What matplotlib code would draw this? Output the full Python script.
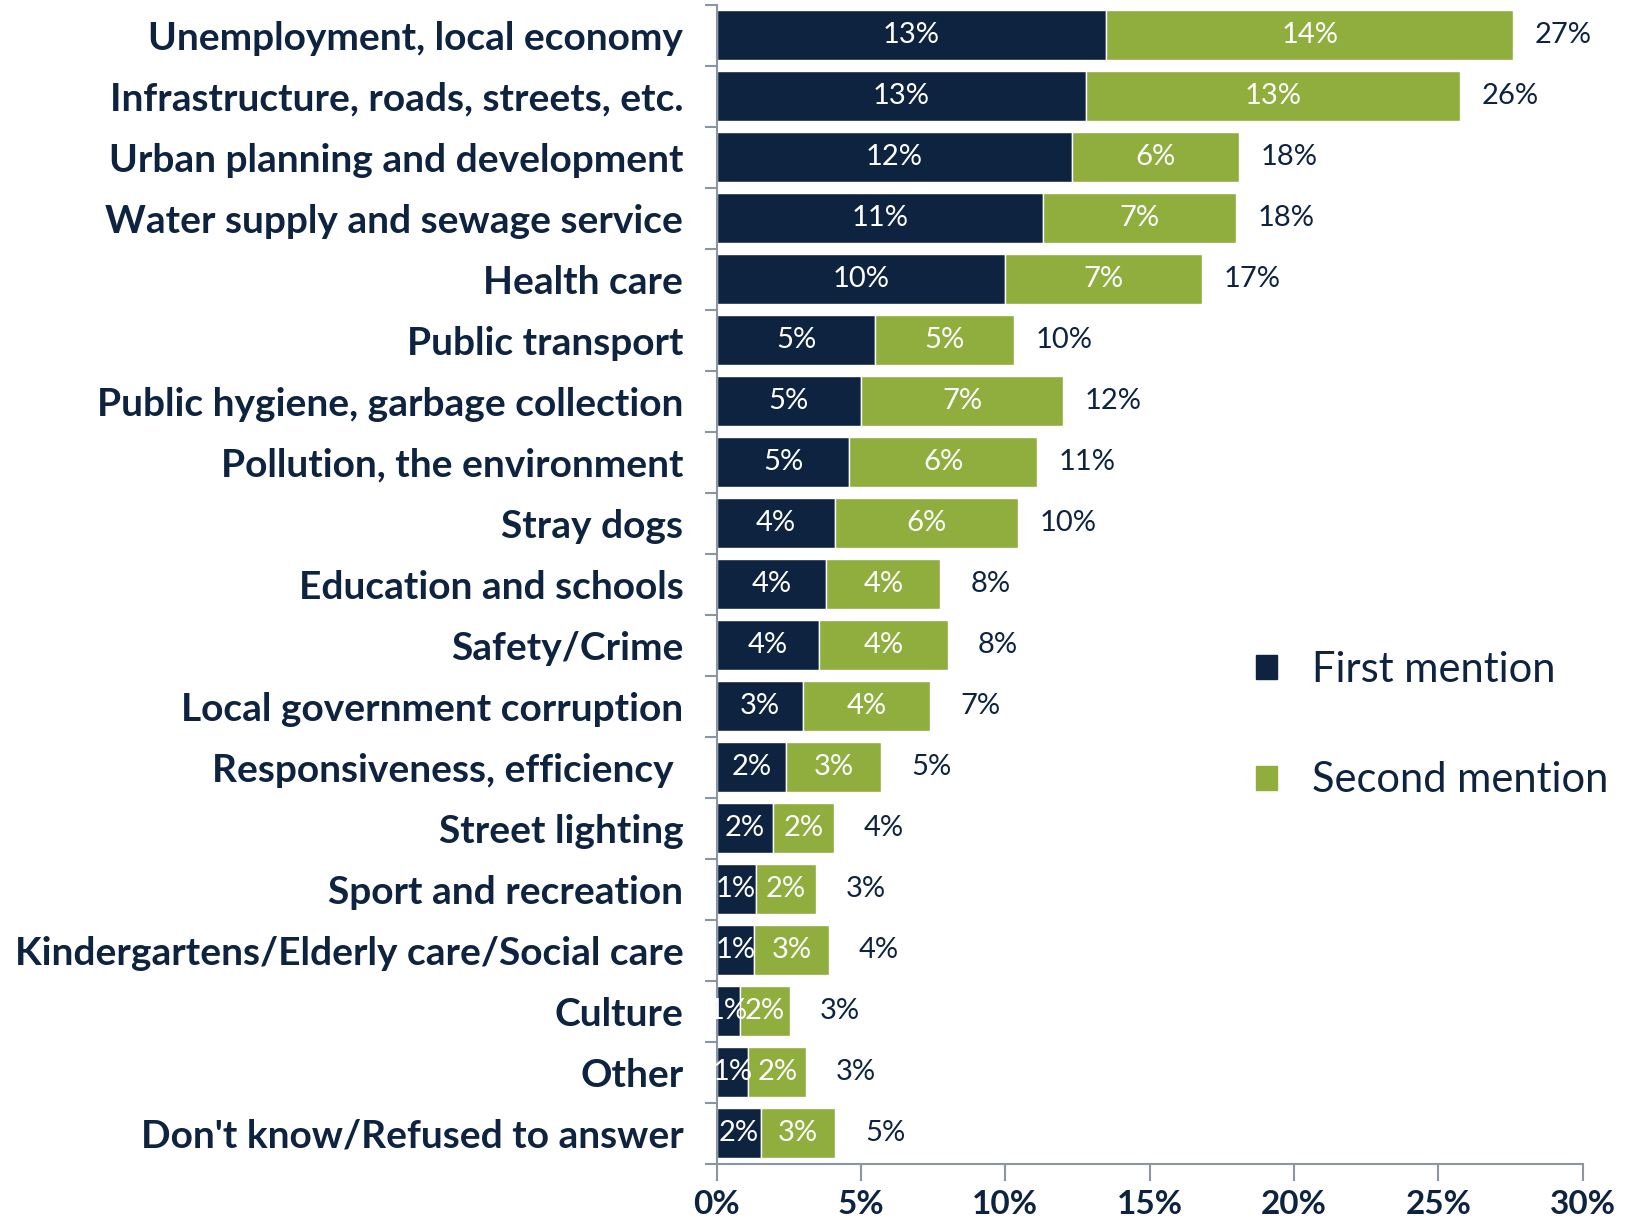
import matplotlib

matplotlib.use("Agg")
import matplotlib.pyplot as plt
import numpy as np
from matplotlib.patches import Patch

plt.rcParams["font.family"] = ["Lato", "DejaVu Sans"]

categories = [
    "Unemployment, local economy",
    "Infrastructure, roads, streets, etc.",
    "Urban planning and development",
    "Water supply and sewage service",
    "Health care",
    "Public transport",
    "Public hygiene, garbage collection",
    "Pollution, the environment",
    "Stray dogs",
    "Education and schools",
    "Safety/Crime",
    "Local government corruption",
    "Responsiveness, efficiency ",
    "Street lighting",
    "Sport and recreation",
    "Kindergartens/Elderly care/Social care",
    "Culture",
    "Other",
    "Don't know/Refused to answer",
]
first = [13.5, 12.8, 12.3, 11.3, 10.0, 5.5, 5.0, 4.6, 4.1, 3.8, 3.55, 3.0, 2.4, 1.95, 1.35, 1.3, 0.8, 1.1, 1.55]
second = [14.1, 12.95, 5.8, 6.7, 6.8, 4.8, 7.0, 6.5, 6.35, 3.95, 4.45, 4.4, 3.3, 2.1, 2.1, 2.6, 1.75, 2.0, 2.55]
first_lbl = ["13%", "13%", "12%", "11%", "10%", "5%", "5%", "5%", "4%", "4%", "4%", "3%", "2%", "2%", "1%", "1%", "1%", "1%", "2%"]
second_lbl = ["14%", "13%", "6%", "7%", "7%", "5%", "7%", "6%", "6%", "4%", "4%", "4%", "3%", "2%", "2%", "3%", "2%", "2%", "3%"]
total_lbl = ["27%", "26%", "18%", "18%", "17%", "10%", "12%", "11%", "10%", "8%", "8%", "7%", "5%", "4%", "3%", "4%", "3%", "3%", "5%"]

NAVY = "#0e2340"
GREEN = "#8fae3d"
GRID = "#8a96a3"

fig = plt.figure(figsize=(16.25, 12.26), dpi=100)
ax = fig.add_axes([0.441, 0.0506, 0.533, 0.9456])

y = np.arange(len(categories))
first = np.array(first)
second = np.array(second)
ax.barh(y, first, height=0.82, color=NAVY, edgecolor="white", linewidth=1)
ax.barh(y, second, left=first, height=0.82, color=GREEN, edgecolor="white", linewidth=1)

for i in range(len(categories)):
    ax.text(first[i] / 2, y[i], first_lbl[i], ha="center", va="center", color="white", fontsize=21)
    ax.text(first[i] + second[i] / 2, y[i], second_lbl[i], ha="center", va="center", color="white", fontsize=21)
    ax.annotate(total_lbl[i], (first[i] + second[i], y[i]), xytext=(36, 0), textcoords="offset points",
                ha="center", va="center", color=NAVY, fontsize=21)

ax.set_xlim(0, 30)
ax.set_ylim(len(categories) - 0.5, -0.5)
ax.set_xticks(np.arange(0, 31, 5))
ax.set_xticklabels([f"{v}%" for v in range(0, 31, 5)], fontsize=24, fontweight="bold", color=NAVY)
ax.set_yticks(y)
ax.set_yticklabels(categories, fontsize=28, fontweight="bold", color=NAVY)
ax.set_yticks(np.arange(len(categories) + 1) - 0.5, minor=True)
ax.tick_params(axis="y", which="major", length=0, pad=24)
ax.tick_params(axis="y", which="minor", length=9, color=GRID, width=1.5)
ax.tick_params(axis="x", which="major", length=12, color=GRID, width=1.5, pad=7)

for s in ["top", "right"]:
    ax.spines[s].set_visible(False)
for s in ["left", "bottom"]:
    ax.spines[s].set_color(GRID)
    ax.spines[s].set_linewidth(1.5)

handles = [Patch(color=NAVY, label="First mention"), Patch(color=GREEN, label="Second mention")]
fig.legend(handles=handles, loc="upper left", bbox_to_anchor=(0.75, 0.5), frameon=False,
           fontsize=30, labelcolor=NAVY, handlelength=0.5, handleheight=0.5, handletextpad=0.85,
           labelspacing=1.75)

fig.savefig("out.png", dpi=100)
